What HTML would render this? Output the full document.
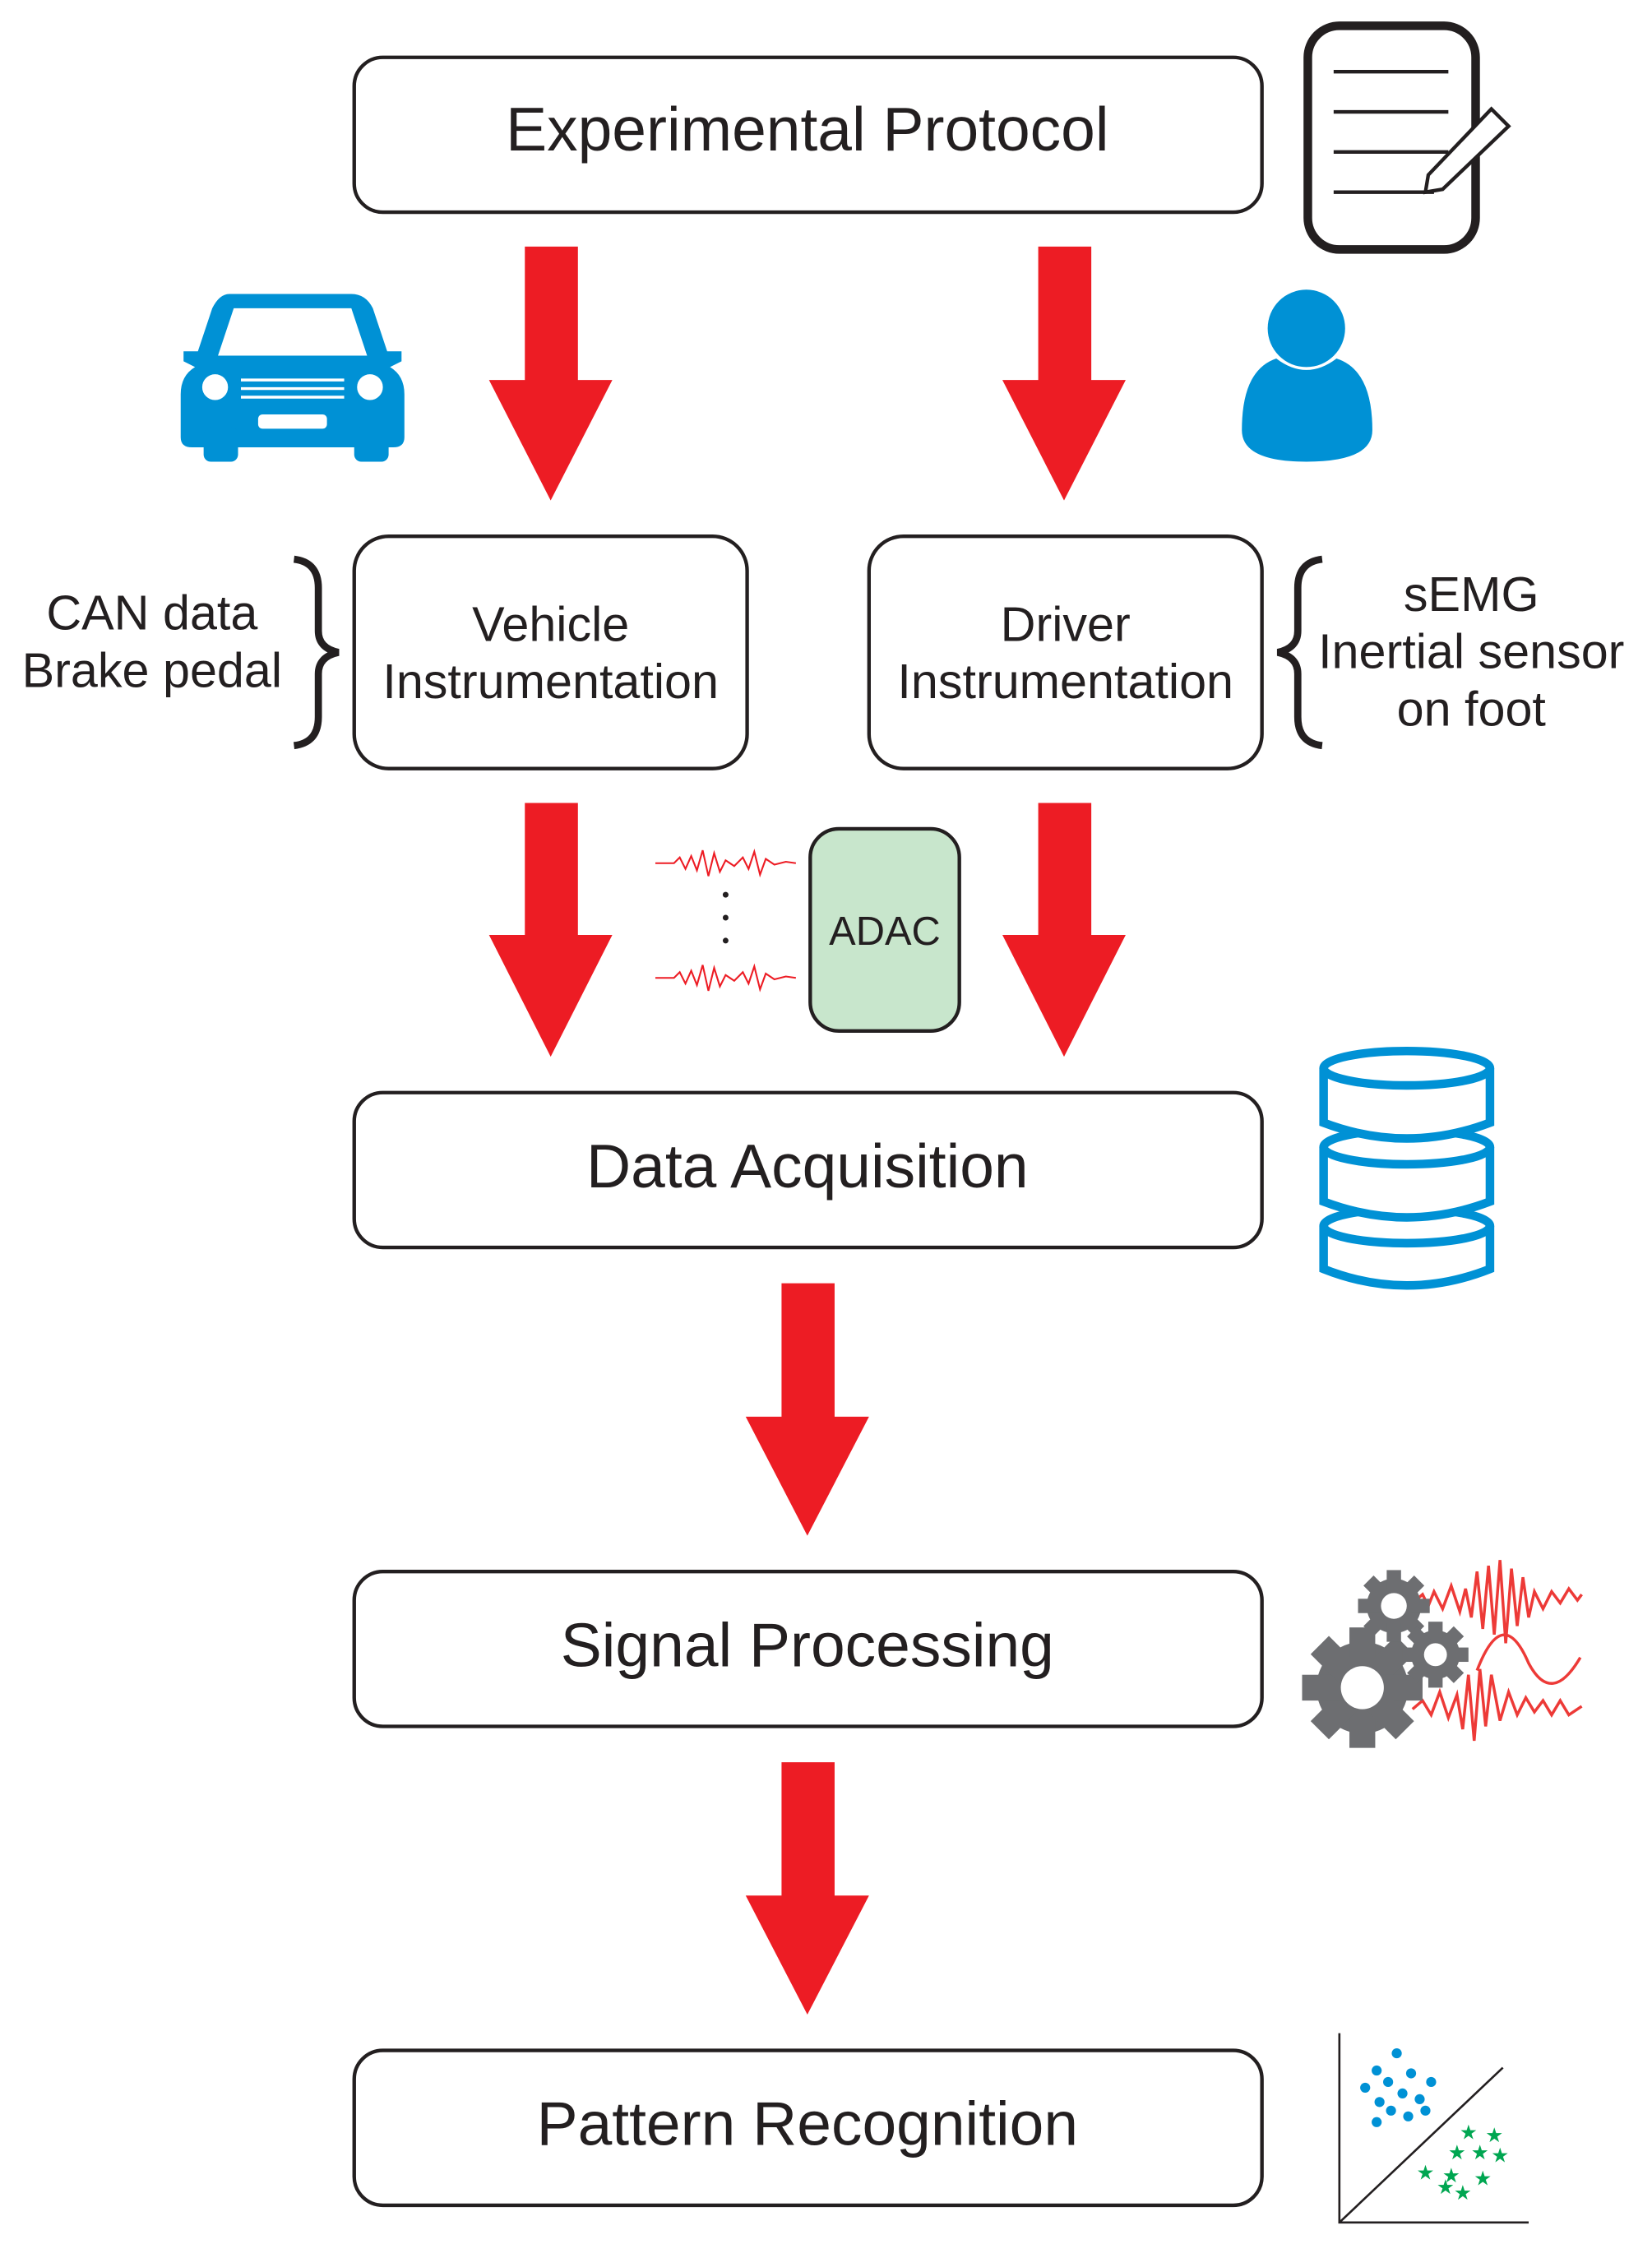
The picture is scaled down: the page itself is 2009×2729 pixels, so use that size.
<!DOCTYPE html>
<html><head><style>html,body{margin:0;padding:0;background:#fff}svg{display:block}</style></head>
<body>
<svg width="2009" height="2729" viewBox="0 0 1152 1565" preserveAspectRatio="none" xmlns="http://www.w3.org/2000/svg" font-family="Liberation Sans, sans-serif">
<g fill="none" stroke="#231f20" stroke-width="2.5">
<rect x="247" y="40" width="633" height="108" rx="20"/>
<rect x="247" y="374" width="274" height="162" rx="24"/>
<rect x="606" y="374" width="274" height="162" rx="24"/>
<rect x="247" y="762" width="633" height="108" rx="20"/>
<rect x="247" y="1096" width="633" height="108" rx="20"/>
<rect x="247" y="1430" width="633" height="108" rx="20"/>
</g>
<rect x="565" y="578" width="104" height="141" rx="20" fill="#c8e6cc" stroke="#231f20" stroke-width="2.5"/>
<g fill="#231f20" text-anchor="middle">
<text x="563" y="105" font-size="43">Experimental Protocol</text>
<text x="384" y="447" font-size="34">Vehicle</text>
<text x="384" y="487" font-size="34">Instrumentation</text>
<text x="743" y="447" font-size="34">Driver</text>
<text x="743" y="487" font-size="34">Instrumentation</text>
<text x="563" y="828" font-size="43">Data Acquisition</text>
<text x="563" y="1162" font-size="43">Signal Processing</text>
<text x="563" y="1496" font-size="43">Pattern Recognition</text>
<text x="617" y="659" font-size="28">ADAC</text>
<text x="106" y="439" font-size="34">CAN data</text>
<text x="106" y="479" font-size="34">Brake pedal</text>
<text x="1026" y="426" font-size="34">sEMG</text>
<text x="1026" y="466" font-size="34">Inertial sensor</text>
<text x="1026" y="506" font-size="34">on foot</text>
</g>
<path d="M205 390 Q222 392 222 410 L222 440 Q222 452 236 455 Q222 458 222 470 L222 500 Q222 518 205 520" fill="none" stroke="#231f20" stroke-width="5"/>
<path d="M922 390 Q905 392 905 410 L905 440 Q905 452 891 455 Q905 458 905 470 L905 500 Q905 518 922 520" fill="none" stroke="#231f20" stroke-width="5"/>
<g fill="#ed1c24">
<path d="M366 172H403V265H427L384 349L341 265H366Z"/>
<path d="M724 172H761V265H785L742 349L699 265H724Z"/>
<path d="M366 560H403V652H427L384 737L341 652H366Z"/>
<path d="M724 560H761V652H785L742 737L699 652H724Z"/>
<path d="M545 895H582V988H606L563 1071L520 988H545Z"/>
<path d="M545 1229H582V1322H606L563 1405L520 1322H545Z"/>
</g>
<g fill="none" stroke="#ed1c24" stroke-width="1.2">
<path d="M457 602 L470 602 L474 598 L478 606 L482 597 L486 607 L490 593 L494 611 L498 595 L502 608 L506 600 L512 604 L518 598 L522 606 L526 594 L530 610 L534 599 L540 603 L548 601 L555 602"/>
<path d="M457 682 L470 682 L474 678 L478 686 L482 677 L486 687 L490 673 L494 691 L498 675 L502 688 L506 680 L512 684 L518 678 L522 686 L526 674 L530 690 L534 679 L540 683 L548 681 L555 682"/>
</g>
<g fill="#231f20"><circle cx="506" cy="624" r="2"/><circle cx="506" cy="640" r="2"/><circle cx="506" cy="656" r="2"/></g>
<rect x="912" y="18" width="117" height="156" rx="22" fill="none" stroke="#231f20" stroke-width="6"/>
<g stroke="#231f20" stroke-width="2.5"><line x1="930" y1="50" x2="1010" y2="50"/><line x1="930" y1="78" x2="1010" y2="78"/><line x1="930" y1="106" x2="1010" y2="106"/><line x1="930" y1="134" x2="1000" y2="134"/></g>
<path d="M1040 76 L1052 88 L1006 132 L994 134 L996 122 Z" fill="#fff" stroke="#231f20" stroke-width="2.5"/>
<g fill="#0091d5">
<path d="M160 205 H245 Q255 205 260 215 L270 245 H280 V252 L272 256 Q282 262 282 275 V305 Q282 312 274 312 H134 Q126 312 126 305 V275 Q126 262 136 256 L128 252 V245 H138 L148 215 Q153 205 160 205Z"/>
<rect x="142" y="298" width="24" height="24" rx="5"/><rect x="247" y="298" width="24" height="24" rx="5"/>
</g>
<path d="M163 215 H245 L256 248 H152Z" fill="#fff"/>
<circle cx="150" cy="270" r="9" fill="#fff"/><circle cx="258" cy="270" r="9" fill="#fff"/>
<g stroke="#fff" stroke-width="2"><line x1="168" y1="265" x2="240" y2="265"/><line x1="168" y1="271" x2="240" y2="271"/><line x1="168" y1="277" x2="240" y2="277"/></g>
<rect x="180" y="289" width="48" height="10" rx="3" fill="#fff"/>
<circle cx="911" cy="229" r="27" fill="#0091d5"/>
<path d="M866 300 Q866 258 890 250 Q911 266 932 250 Q957 258 957 300 Q957 322 911 322 Q866 322 866 300Z" fill="#0091d5"/>
<g fill="#fff" stroke="#0091d5" stroke-width="6">
<path d="M923 855 V885 Q981 908 1039 885 V855"/>
<ellipse cx="981" cy="855" rx="58" ry="12"/>
<path d="M923 800 V838 Q981 860 1039 838 V800"/>
<ellipse cx="981" cy="800" rx="58" ry="12"/>
<path d="M923 745 V783 Q981 805 1039 783 V745"/>
<ellipse cx="981" cy="745" rx="58" ry="12"/>
</g>
<g fill="none" stroke="#ed3a37" stroke-width="2">
<path d="M985 1118 L992 1112 L996 1120 L1000 1110 L1006 1122 L1012 1106 L1018 1124 L1022 1108 L1026 1128 L1030 1096 L1034 1136 L1038 1092 L1042 1140 L1046 1088 L1050 1146 L1054 1094 L1058 1134 L1062 1100 L1066 1128 L1070 1110 L1076 1122 L1082 1110 L1088 1118 L1094 1108 L1100 1116 L1103 1112"/>
<path d="M1030 1165 Q1048 1118 1066 1160 Q1082 1190 1102 1156"/>
<path d="M985 1192 L992 1186 L998 1196 L1004 1180 L1010 1198 L1016 1182 L1020 1206 L1024 1168 L1028 1214 L1032 1164 L1036 1204 L1040 1168 L1046 1200 L1052 1180 L1058 1196 L1064 1184 L1070 1194 L1076 1186 L1082 1196 L1088 1186 L1094 1196 L1103 1190"/>
</g>
<g fill="#6d6e71">
<g transform="translate(950,1177)"><circle r="32"/>
<rect x="-9" y="-42" width="18" height="84"/><rect x="-9" y="-42" width="18" height="84" transform="rotate(45)"/><rect x="-9" y="-42" width="18" height="84" transform="rotate(90)"/><rect x="-9" y="-42" width="18" height="84" transform="rotate(135)"/>
<circle r="15" fill="#fff"/></g>
<g transform="translate(972,1120)"><circle r="19"/>
<rect x="-5" y="-25" width="10" height="50"/><rect x="-5" y="-25" width="10" height="50" transform="rotate(45)"/><rect x="-5" y="-25" width="10" height="50" transform="rotate(90)"/><rect x="-5" y="-25" width="10" height="50" transform="rotate(135)"/>
<circle r="9" fill="#fff"/></g>
<g transform="translate(1001,1154)"><circle r="17"/>
<rect x="-5" y="-23" width="10" height="46"/><rect x="-5" y="-23" width="10" height="46" transform="rotate(45)"/><rect x="-5" y="-23" width="10" height="46" transform="rotate(90)"/><rect x="-5" y="-23" width="10" height="46" transform="rotate(135)"/>
<circle r="8" fill="#fff"/></g>
</g>
<g stroke="#231f20" stroke-width="1.5" fill="none"><path d="M934 1418 V1550 H1066"/><line x1="934" y1="1550" x2="1048" y2="1442"/></g>
<g fill="#0091d5"><circle cx="960" cy="1444" r="3.5"/><circle cx="974" cy="1432" r="3.5"/><circle cx="968" cy="1452" r="3.5"/><circle cx="984" cy="1446" r="3.5"/><circle cx="998" cy="1452" r="3.5"/><circle cx="962" cy="1466" r="3.5"/><circle cx="978" cy="1460" r="3.5"/><circle cx="990" cy="1464" r="3.5"/><circle cx="970" cy="1472" r="3.5"/><circle cx="960" cy="1480" r="3.5"/><circle cx="982" cy="1476" r="3.5"/><circle cx="994" cy="1472" r="3.5"/><circle cx="952" cy="1456" r="3.5"/></g>
<g fill="#00a651" font-size="14" text-anchor="middle"><text x="1024" y="1492">★</text><text x="1042" y="1494">★</text><text x="1016" y="1506">★</text><text x="1032" y="1506">★</text><text x="1046" y="1508">★</text><text x="994" y="1520">★</text><text x="1012" y="1522">★</text><text x="1034" y="1524">★</text><text x="1020" y="1534">★</text><text x="1008" y="1530">★</text></g>
</svg>
</body></html>
